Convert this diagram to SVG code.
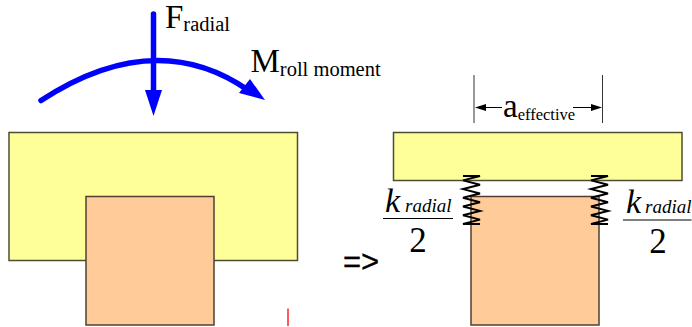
<svg xmlns="http://www.w3.org/2000/svg" width="692" height="327" viewBox="0 0 692 327">
<style>
.y{fill:#ffff99;stroke:#4d4d33;stroke-width:1.5}
.o{fill:#ffcc99;stroke:#4d4033;stroke-width:1.5}
.t{font-family:"Liberation Serif",serif;fill:#000}
.big{font-size:33px}
.sub{font-size:20.500px}
.k{font-size:34px;font-style:italic}
.ks{font-size:19px;font-style:italic}
.two{font-size:35px}
.spr{fill:none;stroke:#000;stroke-width:2}
.dim{fill:none;stroke:#333;stroke-width:1}
.frac{stroke:#000;stroke-width:1.200}
.blue{fill:none;stroke:#0000ff;stroke-width:5.500;stroke-linecap:round}
.dl{fill:none;stroke:#000;stroke-width:1}
</style>
<defs>
<marker id="ah" markerUnits="userSpaceOnUse" markerWidth="11" markerHeight="7" refX="0" refY="3.500" orient="auto"><path d="M0 0L11 3.500L0 7Z" fill="#000"/></marker>
</defs>
<g id="left-top"><rect class="y" x="9" y="132.500" width="288.500" height="128"/></g>
<g id="left-block"><rect class="o" x="86" y="196.500" width="128" height="128.500"/></g>
<g id="right-top"><rect class="y" x="393.500" y="132.500" width="288.500" height="48"/></g>
<g id="right-block"><rect class="o" x="471" y="196.500" width="128" height="128.500"/></g>
<g id="connectors">
<path class="blue" d="M41 100.500Q155 26 248 90"/>
<path d="M239 93L250 79L265 100Z" fill="#0000ff"/>
<path class="blue" d="M153.500 14V92"/>
<path d="M145 90H162L153.500 116Z" fill="#0000ff"/>
<path class="dim" d="M474 75V123M602.500 75V123"/>
<path class="dl" d="M502 107.500H486" marker-end="url(#ah)"/>
<path class="dl" d="M573 107.500H591" marker-end="url(#ah)"/>
<path class="spr" d="M463 176H480L463 180.400L480 184.700L463 189.100L480 193.500L463 197.800L480 202.200L463 206.500L480 210.900L463 215.300L480 219.600L463 224H480"/>
<path class="spr" d="M591 176H608L591 180.400L608 184.700L591 189.100L608 193.500L591 197.800L608 202.200L591 206.500L608 210.900L591 215.300L608 219.600L591 224H608"/>
<path d="M288 308.500V326" stroke="#ff2222" stroke-width="1.500" fill="none"/>
</g>
<g id="label-fradial"><text class="t" x="165" y="28"><tspan class="big">F</tspan><tspan class="sub" y="31">radial</tspan></text></g>
<g id="label-mroll"><text class="t" x="250.500" y="71.500"><tspan class="big">M</tspan><tspan class="sub" y="76">roll moment</tspan></text></g>
<g id="label-aeff"><text class="t" x="503" y="117"><tspan class="big">a</tspan><tspan style="font-size:16.500px" y="120">effective</tspan></text></g>
<g id="label-k-left"><text class="t" x="385" y="212"><tspan class="k">k</tspan><tspan class="ks" x="405">radial</tspan></text><path class="frac" d="M383 218.500H453"/><text class="t two" x="418" y="252" text-anchor="middle">2</text></g>
<g id="label-k-right"><text class="t" x="626" y="213"><tspan class="k">k</tspan><tspan class="ks" x="645">radial</tspan></text><path class="frac" d="M623 220H691.500"/><text class="t two" x="658" y="253" text-anchor="middle">2</text></g>
<g id="label-arrow"><text x="343" y="272" font-family="Liberation Sans, sans-serif" font-size="31" fill="#000" stroke="#000" stroke-width="0.300">=&gt;</text></g>
</svg>
